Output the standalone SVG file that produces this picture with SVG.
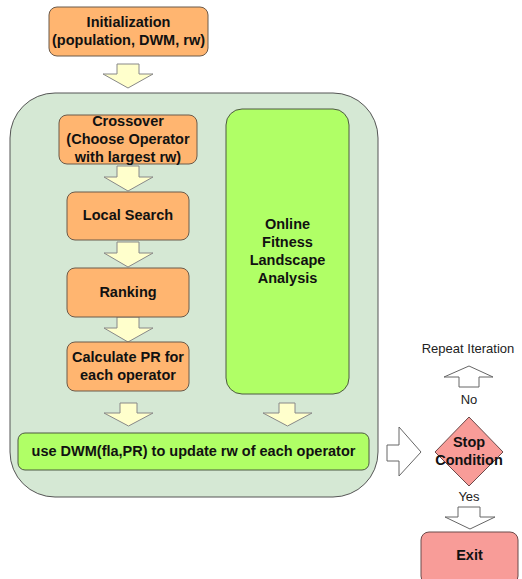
<svg xmlns="http://www.w3.org/2000/svg" width="522" height="579" viewBox="0 0 522 579">
  <defs>
    <style>
      .orange { fill: #FFB570; stroke: #6b5a4a; stroke-width: 1; }
      .green { fill: #B0FF66; stroke: #4d5a40; stroke-width: 1; }
      .pink { fill: #F89C98; stroke: #6b4a4a; stroke-width: 1; }
      .panel { fill: #D5E8D4; stroke: #555; stroke-width: 1; }
      .flow { fill: #FFFFCC; stroke: #888; stroke-width: 1; }
      .hollow { fill: #FFFFFF; stroke: #666; stroke-width: 1; }
      .label { font-family: "Liberation Sans", Arial, sans-serif; font-size: 14.5px; font-weight: bold; fill: #111; text-anchor: middle; }
      .plain { font-family: "Liberation Sans", Arial, sans-serif; font-size: 13px; fill: #222; text-anchor: middle; }
    </style>
  </defs>

  <!-- main loop panel -->
  <g id="panel">
    <rect class="panel" x="10" y="93" width="368" height="404" rx="45" ry="45"/>
  </g>

  <!-- connectors -->
  <g id="connectors">
    <path class="flow" d="M117,64 H139 V74 H153 L128,88 L103,74 H117 Z"/>
    <path class="flow" d="M117,166 H139 V177 H153 L128,191 L104,177 H117 Z"/>
    <path class="flow" d="M117,242 H139 V253 H153 L128,267 L104,253 H117 Z"/>
    <path class="flow" d="M117,317 H139 V328 H153 L128,342 L104,328 H117 Z"/>
    <path class="flow" d="M120,403 H137 V413 H153 L128.5,426 L104,413 H120 Z"/>
    <path class="flow" d="M279,403 H295 V413 H312 L287.5,426 L263,413 H279 Z"/>
    <path class="hollow" d="M387,445 H399 V427 L421,452 L399,476 V461 H387 Z"/>
    <path class="hollow" d="M459,387 V377 H444 L469,366 L493,377 H479 V387 Z"/>
    <path class="hollow" d="M458,507 H480 V517 H495 L470,529 L445,517 H458 Z"/>
    <text class="plain" x="469" y="404">No</text>
    <text class="plain" x="469" y="501">Yes</text>
  </g>

  <g id="init">
    <rect class="orange" x="49" y="7" width="159" height="49" rx="8"/>
    <text class="label" x="128.5" y="27">Initialization</text>
    <text class="label" x="128.5" y="45">(population, DWM, rw)</text>
  </g>

  <g id="crossover">
    <rect class="orange" x="59" y="115" width="138" height="49" rx="8"/>
    <text class="label" x="128" y="126">Crossover</text>
    <text class="label" x="128" y="144">(Choose Operator</text>
    <text class="label" x="128" y="162">with largest rw)</text>
  </g>

  <g id="local-search">
    <rect class="orange" x="67" y="192" width="122" height="48" rx="8"/>
    <text class="label" x="128" y="220">Local Search</text>
  </g>

  <g id="ranking">
    <rect class="orange" x="67" y="268" width="122" height="49" rx="8"/>
    <text class="label" x="128" y="297">Ranking</text>
  </g>

  <g id="calc-pr">
    <rect class="orange" x="67" y="342" width="122" height="49" rx="8"/>
    <text class="label" x="128" y="362">Calculate PR for</text>
    <text class="label" x="128" y="380">each operator</text>
  </g>

  <g id="fla">
    <rect class="green" x="226" y="109" width="123" height="285" rx="16"/>
    <text class="label" x="287.5" y="229">Online</text>
    <text class="label" x="287.5" y="247">Fitness</text>
    <text class="label" x="287.5" y="265">Landscape</text>
    <text class="label" x="287.5" y="283">Analysis</text>
  </g>

  <g id="update-rw">
    <rect class="green" x="18" y="433" width="351" height="37" rx="7"/>
    <text class="label" x="193.5" y="456">use DWM(fla,PR) to update rw of each operator</text>
  </g>

  <g id="repeat">
    <text class="plain" x="468" y="353">Repeat Iteration</text>
  </g>

  <g id="stop">
    <polygon class="pink" points="469,417 503,452 469,486 435,452"/>
    <text class="label" x="469" y="447">Stop</text>
    <text class="label" x="469" y="465">Condition</text>
  </g>

  <g id="exit">
    <rect class="pink" x="421" y="532" width="97" height="52" rx="8"/>
    <text class="label" x="469.5" y="560">Exit</text>
  </g>
</svg>
